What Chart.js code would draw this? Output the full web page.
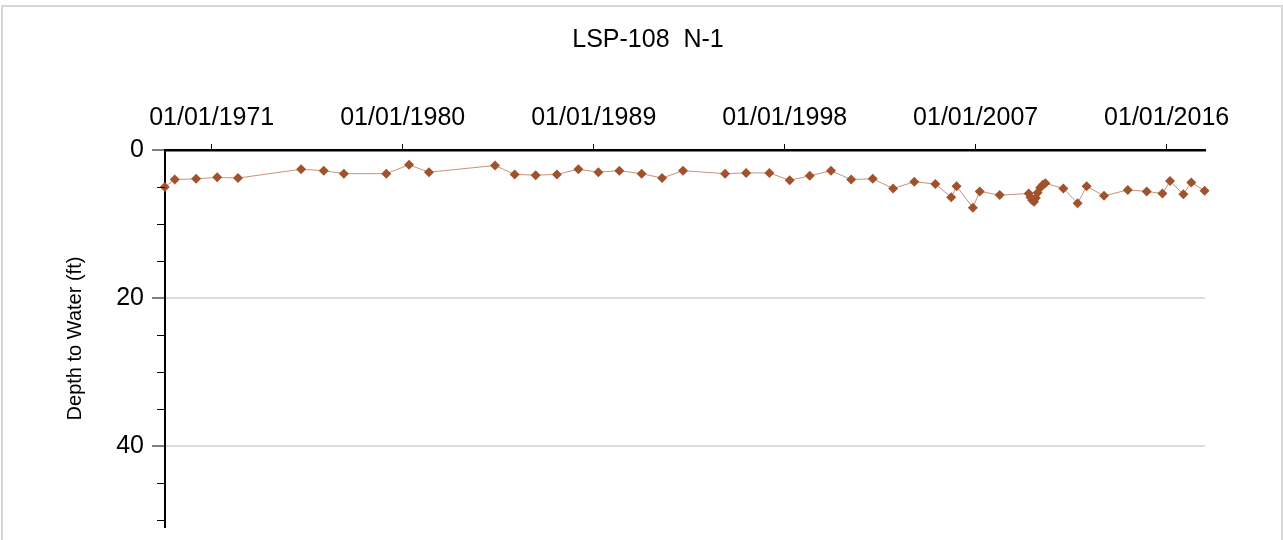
<!DOCTYPE html>
<html>
<head>
<meta charset="utf-8">
<title>LSP-108 N-1</title>
<script src="https://cdn.jsdelivr.net/npm/chart.js@4"></script>
<style>
  html, body { margin: 0; padding: 0; background: #fff; }
</style>
</head>
<body>
<canvas id="hidrograma" width="1283" height="540"></canvas>
<script>
// measurement dates and depth to water (ft)
const dates = [
  '1968-10-15', '1969-04-05', '1970-04-08', '1971-04-05', '1972-03-28',
  '1975-03-20', '1976-04-12', '1977-03-25', '1979-03-25', '1980-04-20',
  '1981-03-28', '1984-05-08', '1985-04-12', '1986-04-08', '1987-04-08',
  '1988-04-12', '1989-03-22', '1990-03-18', '1991-04-05', '1992-03-22',
  '1993-03-18', '1995-03-12', '1996-03-08', '1997-04-12', '1998-03-28',
  '1999-03-08', '2000-03-08', '2001-02-18', '2002-02-25', '2003-02-10',
  '2004-02-10', '2005-02-06', '2005-11-06', '2006-02-06', '2006-11-14',
  '2007-03-12', '2008-02-18', '2009-07-01', '2009-08-01', '2009-09-01',
  '2009-10-01', '2009-11-01', '2009-12-01', '2010-01-15', '2010-03-01',
  '2010-04-15', '2011-02-18', '2011-10-22', '2012-03-25', '2013-01-18',
  '2014-03-03', '2015-01-22', '2015-10-20', '2016-02-28', '2016-10-15',
  '2017-02-28', '2017-10-15'
];
const depths = [
  5.0, 4.0, 3.9, 3.7, 3.8,
  2.6, 2.8, 3.2, 3.2, 2.0,
  3.0, 2.1, 3.3, 3.4, 3.3,
  2.6, 3.0, 2.8, 3.2, 3.8,
  2.8, 3.2, 3.1, 3.1, 4.1,
  3.5, 2.8, 4.0, 3.9, 5.2,
  4.3, 4.6, 6.4, 4.9, 7.8,
  5.6, 6.1, 5.9, 6.4, 6.8,
  7.0, 6.5, 5.8, 5.1, 4.7,
  4.5, 5.2, 7.2, 4.9, 6.2,
  5.4, 5.6, 5.9, 4.2, 6.0,
  4.4, 5.5
];
const tickYears = [1971, 1980, 1989, 1998, 2007, 2016];
const depthLabels = [0, 20, 40];
const chartTitle = 'LSP-108  N-1';

const FONT = "'Liberation Sans', Arial, Helvetica, sans-serif";
const toMs = s => {
  const [y, m, d] = s.split('-').map(Number);
  return Date.UTC(y, m - 1, d);
};
const points = dates.map((d, i) => ({ x: toMs(d), y: depths[i] }));

// white background, grey frame and the title centred on the page
const framePlugin = {
  id: 'frame',
  beforeDraw(chart) {
    const c = chart.ctx;
    c.save();
    c.fillStyle = '#fff';
    c.fillRect(0, 0, chart.width, chart.height);
    c.strokeStyle = '#d6d6d6';
    c.lineWidth = 2;
    c.strokeRect(2, 6, chart.width - 3, chart.height + 10);
    c.fillStyle = '#000';
    c.font = '25px ' + FONT;
    c.textAlign = 'center';
    c.textBaseline = 'middle';
    c.fillText(chartTitle, 648, 40);
    c.restore();
  }
};

// short minor ticks on the depth axis
const minorTicks = {
  id: 'minorTicks',
  afterDraw(chart) {
    const y = chart.scales.y;
    const c = chart.ctx;
    c.save();
    c.strokeStyle = '#000';
    c.lineWidth = 1;
    for (let v = 5; v <= y.max; v += 5) {
      if (depthLabels.includes(v)) continue;
      const py = Math.round(y.getPixelForValue(v)) + 0.5;
      c.beginPath();
      c.moveTo(y.right - 8, py);
      c.lineTo(y.right, py);
      c.stroke();
    }
    c.restore();
  }
};

new Chart(document.getElementById('hidrograma'), {
  type: 'line',
  data: {
    datasets: [{
      data: points,
      borderColor: 'rgba(175, 100, 65, 0.7)',
      borderWidth: 1,
      tension: 0,
      pointStyle: 'rectRot',
      pointRadius: 5,
      pointBackgroundColor: '#a0522d',
      pointBorderColor: '#a0522d',
      pointBorderWidth: 0,
      clip: false
    }]
  },
  options: {
    responsive: false,
    animation: false,
    layout: { padding: { left: 0, right: 78, top: 0, bottom: 13 } },
    plugins: {
      legend: { display: false },
      tooltip: { enabled: false }
    },
    scales: {
      x: {
        type: 'linear',
        position: 'top',
        min: toMs('1968-10-19'),
        max: toMs('2017-10-22'),
        afterBuildTicks: s => {
          s.ticks = tickYears.map(y => ({ value: Date.UTC(y, 0, 1) }));
        },
        afterFit: s => {
          s.height = 150;
          s.paddingLeft = 0;
          s.paddingRight = 0;
        },
        ticks: {
          autoSkip: false,
          maxRotation: 0,
          color: '#000',
          padding: 11,
          font: { family: FONT, size: 25 },
          callback: v => '01/01/' + new Date(v).getUTCFullYear()
        },
        grid: { drawOnChartArea: false, tickLength: 6, tickColor: '#000', tickWidth: 1 },
        border: { color: '#000', width: 2.5 }
      },
      y: {
        reverse: true,
        min: 0,
        max: 51,
        afterBuildTicks: s => {
          const t = [];
          for (let v = 0; v <= 50; v += 5) t.push({ value: v });
          s.ticks = t;
        },
        afterFit: s => {
          s.width = 165;
          s.paddingTop = 0;
          s.paddingBottom = 0;
        },
        ticks: {
          color: '#000',
          padding: 8,
          font: { family: FONT, size: 25 },
          callback: v => depthLabels.includes(v) ? String(v) : ''
        },
        grid: {
          color: c => (c.tick && c.tick.value > 0 && depthLabels.includes(c.tick.value)) ? '#dcdcdc' : 'rgba(0,0,0,0)',
          lineWidth: 2,
          tickLength: 13,
          tickWidth: 1,
          tickColor: c => (c.tick && depthLabels.includes(c.tick.value)) ? '#000' : 'rgba(0,0,0,0)'
        },
        border: { color: '#000', width: 2 },
        title: {
          display: true,
          text: 'Depth to Water (ft)',
          color: '#000',
          font: { family: FONT, size: 20 },
          padding: { top: 63, bottom: 0 }
        }
      }
    }
  },
  plugins: [framePlugin, minorTicks]
});
</script>
</body>
</html>
